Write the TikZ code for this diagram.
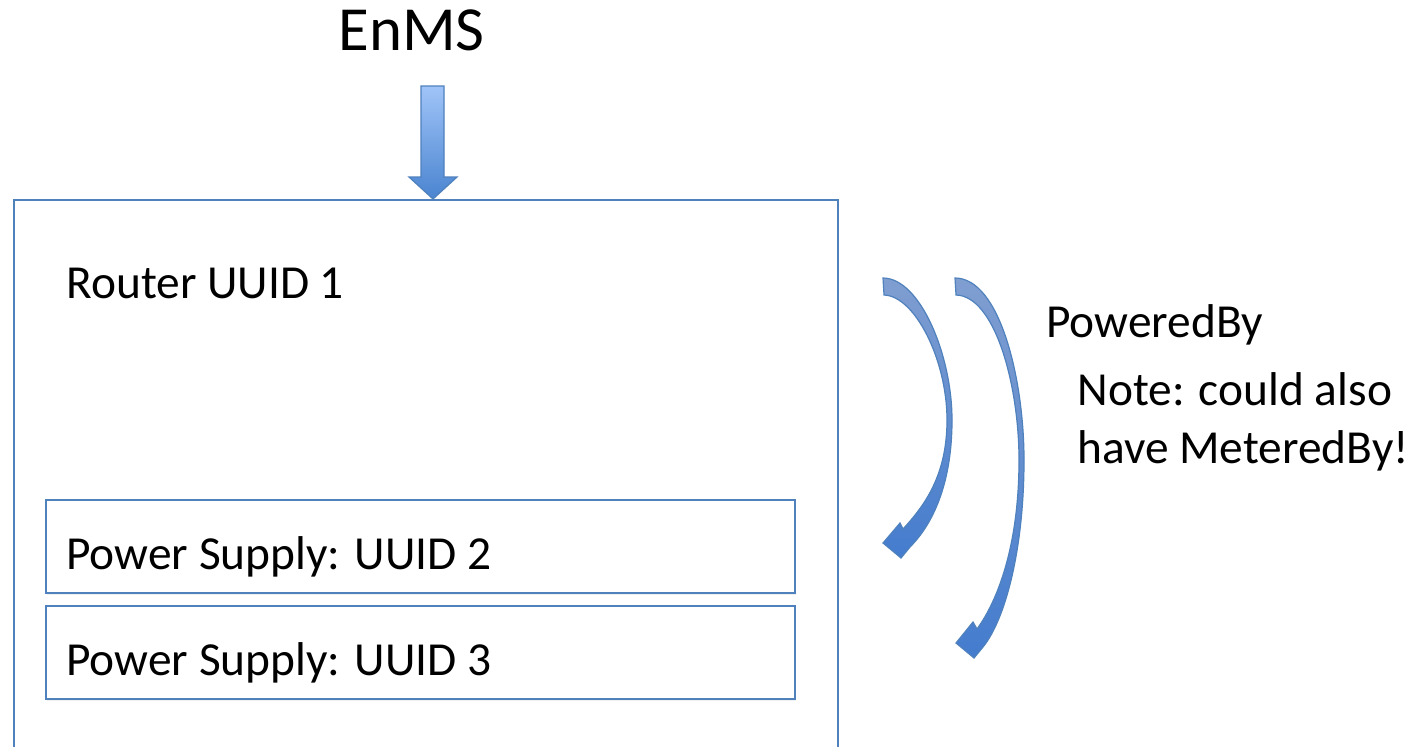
\documentclass[tikz,border=0pt]{standalone}
\usepackage{fontspec}
\setmainfont{Carlito}
\usetikzlibrary{shadows}

\definecolor{boxblue}{RGB}{79,129,189}
\definecolor{arrowlight}{RGB}{160,196,248}
\definecolor{arrowdark}{RGB}{74,132,208}
\definecolor{curvetail}{RGB}{128,158,208}
\definecolor{curvehead}{RGB}{68,124,206}

\tikzset{
  boxline/.style={draw=boxblue, line width=1.2pt, fill=white,
    drop shadow={shadow xshift=0.6pt, shadow yshift=-1pt, opacity=0.12}},
  label/.style={anchor=base west, inner sep=0pt, font=\fontsize{23.7}{29}\selectfont},
  title/.style={anchor=base west, inner sep=0pt, font=\fontsize{31.4}{36}\selectfont},
  downarrow/.style={draw=boxblue, line width=0.6pt, top color=arrowlight, bottom color=arrowdark},
  curvearrow/.style={draw=boxblue, line width=0.6pt, top color=curvetail, bottom color=curvehead}
}

\begin{document}
\begin{tikzpicture}[x=0.5pt, y=-0.5pt]
  \useasboundingbox (0,0) rectangle (1428,746);
  \fill[white] (0,0) rectangle (1428,746);

  \begin{scope}
    \clip (0,0) rectangle (1428,746);
    % router enclosure, running past the lower edge
    \node[boxline, anchor=north west, minimum width=411.9pt, minimum height=290pt, inner sep=0pt] (router) at (13,199) {};
  \end{scope}

  % power supply boxes
  \node[boxline, anchor=north west, minimum width=374.5pt, minimum height=46.5pt, inner sep=0pt] (psa) at (45,499) {};
  \node[boxline, anchor=north west, minimum width=374.5pt, minimum height=46.5pt, inner sep=0pt] (psb) at (45,605) {};

  % texts
  \node[title] (enms) at (338,50) {EnMS};
  \node[label] (routertxt) at (66,298) {Router UUID 1};
  \node[label] (psatxt) at (66,569) {Power Supply: UUID 2};
  \node[label] (psbtxt) at (66,675) {Power Supply: UUID 3};
  \node[label] (powered) at (1046,337) {PoweredBy};
  \node[label] (notea) at (1077,405) {Note: could also};
  \node[label] (noteb) at (1077,463) {have MeteredBy!};

  % block arrow from EnMS into the router
  \path[downarrow] (421,86) -- (444,86) -- (444,177) -- (457,177) -- (433,199)
    -- (409,177) -- (421,177) -- cycle;

  % curved PoweredBy arrows
  \path[curvearrow] (883,278) .. controls (920,278) and (952,355) .. (952,420)
    .. controls (952,485) and (932,525) .. (910,547) -- (901,558) -- (883,543)
    -- (900,523) -- (903,529) .. controls (925,505) and (947,475) .. (947,420)
    .. controls (947,360) and (915,296) .. (884,295) -- cycle;

  \path[curvearrow] (955,278) .. controls (1000,278) and (1024,380) .. (1024,460)
    .. controls (1024,550) and (1005,620) .. (983,647) -- (974,658) -- (956,643)
    -- (973,622) -- (977,629) .. controls (998,600) and (1019,545) .. (1019,460)
    .. controls (1019,385) and (995,296) .. (956,295) -- cycle;
\end{tikzpicture}
\end{document}
